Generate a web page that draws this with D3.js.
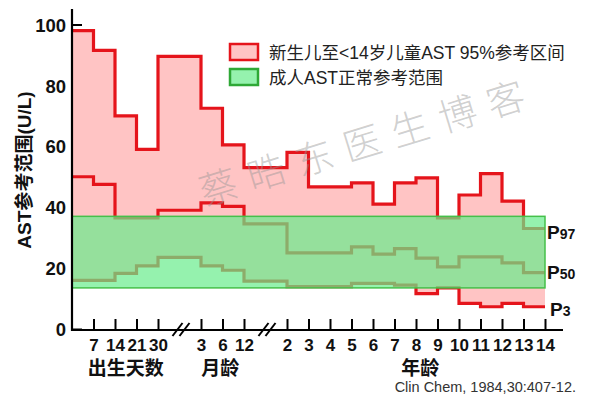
<!DOCTYPE html>
<html>
<head>
<meta charset="utf-8">
<script src="https://cdn.jsdelivr.net/npm/d3@7"></script>
<style>
  body { margin: 0; background: #fff; }
  svg { display: block; }
</style>
</head>
<body>
<script>
// age slots: 0 = birth, 1..4 = 7/14/21/30 days, 5 = break, 6..8 = 3/6/12 months, 9 = break, 10..22 = 2..14 years
const xTickSlots = [1, 2, 3, 4, 6, 7, 8, 10, 11, 12, 13, 14, 15, 16, 17, 18, 19, 20, 21, 22];
const xTickLabels = ["7", "14", "21", "30", "3", "6", "12", "2", "3", "4", "5", "6", "7", "8", "9", "10", "11", "12", "13", "14"];
const breakSlots = [5, 9];
const groupLabels = ["出生天数", "月龄", "年龄"];
const groupSlots = [2.5, 6.9, 16.2];
const yTicks = [0, 20, 40, 60, 80, 100];

// step values per slot interval [i, i+1]
const p97 = [98, 91.5, 70, 59, 89.5, 89.5, 72.5, 60.5, 53, 53, 58, 46.7, 46.7, 48, 41, 48, 49.6, 36.5, 44, 51, 42, 33];
const p50 = [50, 47.5, 36.5, 36.5, 39, 39, 41.4, 40.3, 34.5, 34.5, 25, 25, 25, 27, 24.6, 26.4, 23.3, 20.4, 23.7, 23.7, 21.7, 18.5];
const p3  = [16, 16, 18.3, 20.7, 23.5, 23.5, 20.7, 19.3, 15.7, 15.7, 13.9, 13.9, 13.9, 15, 15, 14.4, 11.6, 13.5, 8.4, 7.3, 8.4, 7.3];

// adult reference range
const adultLow = 13.5;
const adultHigh = 37;

const legendLabels = ["新生儿至<14岁儿童AST 95%参考区间", "成人AST正常参考范围"];
const pLabels = [["P", "97"], ["P", "50"], ["P", "3"]];

const W = 600, H = 398;
const red = "#e5141b";
const pink = "#ffc4c4";
const green = "rgb(104,236,140)";
const latin = "'Liberation Sans', Arial, 'Noto Sans CJK SC', sans-serif";

const svg = d3.select("body").append("svg")
    .attr("width", W)
    .attr("height", H)
    .style("font-family", latin);

const x = d3.scaleLinear().domain([0, 22]).range([72, 545]);
const y = d3.scaleLinear().domain([0, 100]).range([329, 24.5]);

// y axis ticks go under the fills, only the 100 tick stays visible
const yAxisG = svg.append("g")
    .attr("transform", "translate(72,0)")
    .call(d3.axisLeft(y).tickValues(yTicks).tickSizeInner(-10).tickSizeOuter(0).tickPadding(6))
yAxisG.select(".domain").remove();
yAxisG.selectAll("line").attr("stroke", "#000").attr("stroke-width", 2);
yAxisG.selectAll("text")
    .style("font-size", "18.5px")
    .style("font-weight", "bold")
    .attr("fill", "#111")
    .attr("dy", "0.36em");

function steps(vals) {
    var pts = vals.map(function (v, i) { return { s: i, v: v }; });
    pts.push({ s: vals.length, v: vals[vals.length - 1] });
    return pts;
}

// pink band between P3 and P97
var band = p97.map(function (v, i) { return { s: i, hi: v, lo: p3[i] }; });
band.push({ s: 22, hi: p97[21], lo: p3[21] });

svg.append("path")
    .datum(band)
    .attr("fill", pink)
    .attr("d", d3.area()
        .x(function (d) { return x(d.s); })
        .y0(function (d) { return y(d.lo); })
        .y1(function (d) { return y(d.hi); })
        .curve(d3.curveStepAfter));

var stepLine = d3.line()
    .x(function (d) { return x(d.s); })
    .y(function (d) { return y(d.v); })
    .curve(d3.curveStepAfter);

[p97, p50, p3].forEach(function (serie) {
    svg.append("path")
        .datum(steps(serie))
        .attr("fill", "none")
        .attr("stroke", red)
        .attr("stroke-width", 3.2)
        .attr("stroke-linejoin", "miter")
        .attr("d", stepLine);
});

// adult range box, translucent so the lines show through olive
svg.append("rect")
    .attr("x", x(0))
    .attr("y", y(adultHigh))
    .attr("width", x(22) - x(0))
    .attr("height", y(adultLow) - y(adultHigh))
    .attr("fill", green)
    .attr("fill-opacity", 0.7)
    .attr("stroke", "#45c04a")
    .attr("stroke-width", 1.5);

// x axis
const xAxisG = svg.append("g")
    .attr("transform", "translate(0,330)")
    .call(d3.axisBottom(x)
        .tickValues(xTickSlots)
        .tickFormat(function (d, i) { return xTickLabels[i]; })
        .tickSizeInner(-11)
        .tickSizeOuter(0)
        .tickPadding(9));
xAxisG.select(".domain").remove();
xAxisG.selectAll("line").attr("stroke", "#000").attr("stroke-width", 2);
xAxisG.selectAll("text")
    .style("font-size", "17px")
    .style("font-weight", "bold")
    .attr("fill", "#111");

// axis spines on top
svg.append("line")
    .attr("x1", 72).attr("x2", 72)
    .attr("y1", 9).attr("y2", 331)
    .attr("stroke", "#000").attr("stroke-width", 2.2);
svg.append("line")
    .attr("x1", 71).attr("x2", x(22) + 18)
    .attr("y1", 330).attr("y2", 330)
    .attr("stroke", "#000").attr("stroke-width", 2.2);

// axis break marks
breakSlots.forEach(function (s) {
    var cx = x(s) + 2;
    [-4, 3].forEach(function (off) {
        svg.append("line")
            .attr("x1", cx + off - 5).attr("y1", 336)
            .attr("x2", cx + off + 5).attr("y2", 323)
            .attr("stroke", "#000").attr("stroke-width", 2);
    });
});

// group labels under the axis
svg.selectAll(".group")
    .data(groupLabels)
    .enter()
    .append("text")
    .attr("x", function (d, i) { return x(groupSlots[i]); })
    .attr("y", 375)
    .attr("text-anchor", "middle")
    .style("font-family", "'Noto Sans CJK SC', sans-serif")
    .style("font-size", "19px")
    .style("font-weight", "bold")
    .attr("fill", "#111")
    .text(function (d) { return d; });

// y title
svg.append("text")
    .attr("transform", "translate(31,170)rotate(-90)")
    .attr("text-anchor", "middle")
    .style("font-size", "19px")
    .style("font-weight", "bold")
    .attr("fill", "#111")
    .text("AST参考范围(U/L)");

// legend
const legend = svg.append("g");
legend.append("rect")
    .attr("x", 230).attr("y", 44).attr("width", 28).attr("height", 16)
    .attr("fill", pink).attr("stroke", red).attr("stroke-width", 2.5);
legend.append("rect")
    .attr("x", 230).attr("y", 69).attr("width", 28).attr("height", 16)
    .attr("fill", green).attr("fill-opacity", 0.7).attr("stroke", "#2ea836").attr("stroke-width", 2.5);
legend.selectAll("text")
    .data(legendLabels)
    .enter()
    .append("text")
    .attr("x", 269)
    .attr("y", function (d, i) { return 59 + i * 25; })
    .style("font-size", "17.5px")
    .attr("fill", "#222")
    .text(function (d) { return d; });

// percentile labels at the right end
const pY = [239, 279, 316];
const pX = [547, 547, 550];
pLabels.forEach(function (p, i) {
    var t = svg.append("text")
        .attr("x", pX[i])
        .attr("y", pY[i])
        .style("font-size", "19px")
        .style("font-weight", "bold")
        .attr("fill", "#111");
    t.append("tspan").text(p[0]);
    t.append("tspan").style("font-size", "14px").text(p[1]);
});

// source
svg.append("text")
    .attr("x", 576)
    .attr("y", 392)
    .attr("text-anchor", "end")
    .style("font-size", "14.5px")
    .attr("fill", "#333")
    .text("Clin Chem, 1984,30:407-12.");

// watermark
svg.append("text")
    .attr("transform", "translate(368,142)rotate(-17)")
    .attr("text-anchor", "middle")
    .attr("dy", "0.35em")
    .style("font-family", "'Noto Sans CJK SC', sans-serif")
    .style("font-size", "38px")
    .style("font-weight", 300)
    .style("letter-spacing", "12px")
    .attr("fill", "rgba(150,150,150,0.45)")
    .text("蔡晧东医生博客");
</script>
</body>
</html>
